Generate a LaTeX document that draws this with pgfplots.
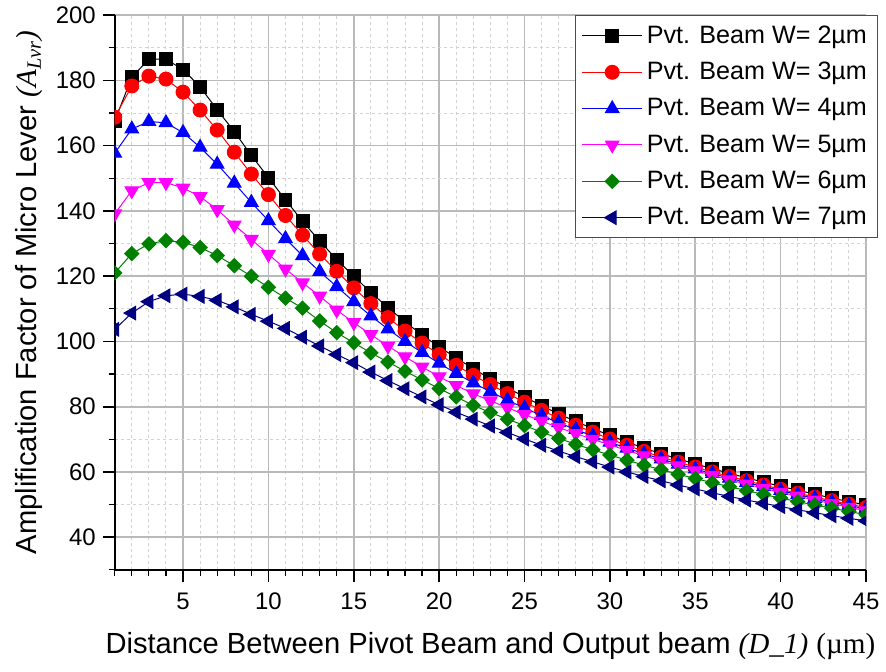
\documentclass[border=0pt]{standalone}
\usepackage{fontspec}
\setmainfont{Liberation Sans}
\newfontfamily\serif{Liberation Serif}
\usepackage{pgfplots}
\usepackage{pgfplotstable}
\pgfplotsset{compat=1.18}

\definecolor{ogreen}{RGB}{0,128,0}
\definecolor{onavy}{RGB}{0,0,128}
\definecolor{omagenta}{RGB}{255,0,255}
\definecolor{ored}{RGB}{255,0,0}
\definecolor{oblue}{RGB}{0,0,255}

% amplification factor vs. distance D_1, one column per pivot beam width
\pgfplotstableread{
x  w2    w3    w4    w5    w6    w7
1  167.5 168.7 157.7 139.1 121.0 103.7
2  181.0 178.3 165.1 146.2 126.9 108.7
3  186.5 181.3 167.4 148.7 129.9 112.2
4  186.5 180.4 167.0 148.7 130.9 114.0
5  183.3 176.4 164.0 147.0 130.4 114.5
6  178.0 170.9 159.5 144.4 128.8 113.8
7  171.0 164.8 154.3 140.4 126.3 112.6
8  164.3 158.0 148.5 135.7 123.2 110.6
9  157.0 151.3 142.6 131.3 120.0 108.3
10 150.2 145.0 137.0 126.7 116.6 106.2
11 143.4 138.6 131.5 122.2 113.3 104.0
12 136.8 132.6 126.3 118.0 110.2 101.3
13 130.8 126.8 121.4 113.9 106.3 98.6
14 125.1 121.5 116.8 109.6 102.7 96.0
15 120.0 116.4 112.2 105.8 99.6  93.5
16 115.0 111.6 107.8 102.1 96.5  90.6
17 110.4 107.3 103.8 98.6  93.7  88.0
18 106.0 103.2 100.0 95.3  90.9  85.5
19 102.0 99.5  96.6  92.2  88.2  83.0
20 98.3  96.0  93.3  89.2  85.6  80.6
21 95.0  92.7  90.2  86.5  83.0  78.3
22 91.6  89.6  87.3  84.0  80.4  76.2
23 88.6  86.8  84.6  81.8  78.2  74.1
24 85.8  84.0  82.0  79.7  76.2  72.1
25 83.0  81.4  79.6  77.6  74.2  70.1
26 80.3  78.9  77.3  75.6  72.2  68.2
27 77.8  76.5  75.1  73.6  70.3  66.4
28 75.5  74.3  73.0  71.8  68.5  64.7
29 73.3  72.2  71.0  70.0  66.8  63.1
30 71.2  70.1  69.1  68.3  65.2  61.5
31 69.2  68.2  67.3  66.6  63.6  60.0
32 67.3  66.3  65.6  65.0  62.1  58.6
33 65.6  64.6  64.0  63.4  60.7  57.3
34 64.0  63.0  62.4  61.9  59.3  56.0
35 62.5  61.5  60.9  60.4  58.0  54.8
36 61.0  60.0  59.5  59.0  56.7  53.6
37 59.6  58.6  58.1  57.6  55.5  52.5
38 58.2  57.3  56.8  56.3  54.3  51.4
39 56.9  56.0  55.5  55.0  53.1  50.4
40 55.6  54.7  54.3  53.8  52.0  49.4
41 54.4  53.5  53.1  52.6  50.9  48.4
42 53.2  52.3  51.9  51.4  49.9  47.5
43 52.0  51.2  50.8  50.3  48.9  46.6
44 50.9  50.1  49.7  49.2  47.9  45.8
45 49.9  49.1  48.7  48.1  46.9  45.0
}\data

\begin{document}
\begin{tikzpicture}
\begin{axis}[
  scale only axis,
  width=376.5pt, height=278pt,
  xmin=1, xmax=45, ymin=30, ymax=200,
  xtick={5,10,...,45}, minor xtick={1,...,45},
  ytick={40,60,...,200}, minor ytick={30,50,...,190},
  axis x line*=bottom, axis y line*=left,
  axis line style={-, line width=1pt},
  tick align=outside,
  major tick length=6pt, minor tick length=3pt,
  every tick/.style={black, line width=0.8pt},
  every minor tick/.style={black, line width=0.6pt},
  grid=both,
  major grid style={gray!55, line width=0.8pt},
  minor grid style={gray!35, line width=0.5pt, dash pattern=on 1.5pt off 1.5pt},
  /pgf/number format/assume math mode=true,
  tick label style={font=\fontsize{12}{14}\selectfont},
  xticklabel style={yshift=-2pt},
  label style={font=\fontsize{14.6}{17}\selectfont},
  xlabel={Distance Between Pivot Beam and Output beam {\serif\itshape (D\_1)} {\serif (µm)}},
  ylabel={Amplification Factor of Micro Lever {\serif\itshape (A\textsubscript{Lvr})}},
  xlabel style={at={(axis description cs:0.5,-0.137)}, anchor=center},
  ylabel style={at={(axis description cs:-0.114,0.5)}, anchor=center},
  clip marker paths=true,
  every axis plot/.append style={line width=0.5pt},
  legend style={at={(1.015,1)}, anchor=north east, draw=black!70,
    font=\fontsize{12.6}{14}\selectfont, row sep=4pt,
    inner xsep=3pt, inner ysep=3pt},
  legend cell align=left,
  legend image code/.code={
    \draw[mark repeat=2, mark phase=2] plot coordinates {(0cm,0cm) (0.53cm,0cm) (1.06cm,0cm)};},
]
\addplot[black, mark=square*, mark size=3.25pt] table[y=w2]{\data};
\addlegendentry{Pvt. Beam W= 2µm}
\addplot[ored, mark=*, mark size=3.5pt] table[y=w3]{\data};
\addlegendentry{Pvt. Beam W= 3µm}
\addplot[oblue, mark=triangle*, mark size=3.9pt] table[y=w4]{\data};
\addlegendentry{Pvt. Beam W= 4µm}
\addplot[omagenta, mark=triangle*, mark size=3.9pt, mark options={rotate=180}] table[y=w5]{\data};
\addlegendentry{Pvt. Beam W= 5µm}
\addplot[ogreen, mark=square*, mark size=2.5pt, mark options={rotate=45}] table[y=w6]{\data};
\addlegendentry{Pvt. Beam W= 6µm}
\addplot[onavy, mark=triangle*, mark size=3.9pt, mark options={rotate=90}] table[y=w7]{\data};
\addlegendentry{Pvt. Beam W= 7µm}
\end{axis}
\path ([xshift=-57.5pt,yshift=-51pt]current axis.south west)
  rectangle ([xshift=9pt,yshift=7.5pt]current axis.north east);
\end{tikzpicture}
\end{document}
